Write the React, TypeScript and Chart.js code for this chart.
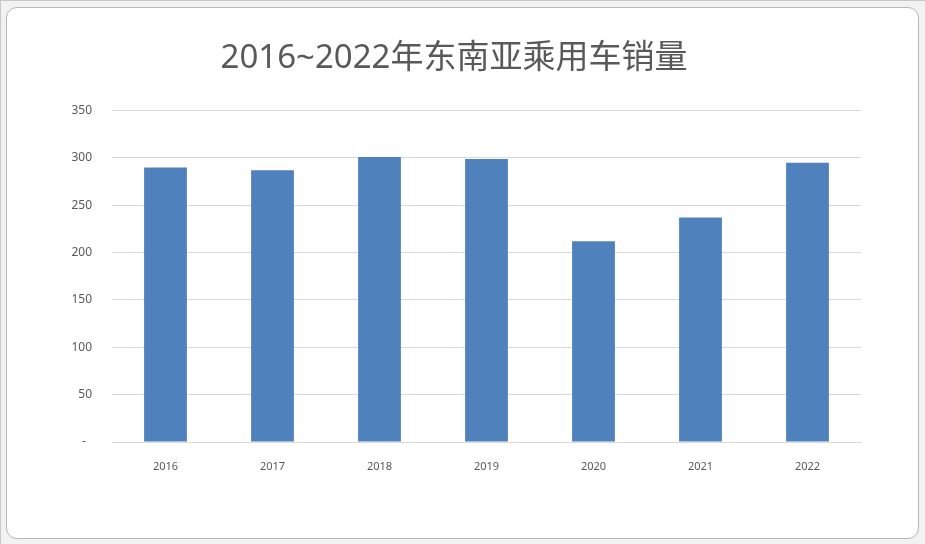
import React, { useEffect, useRef } from 'react';
import Chart from 'chart.js/auto';

const years: string[] = ['2016', '2017', '2018', '2019', '2020', '2021', '2022'];
const sales: number[] = [290, 287, 301, 299, 212, 237, 295];
const titleText = '2016~2022年东南亚乘用车销量';

const App: React.FC = () => {
  const canvasRef = useRef<HTMLCanvasElement>(null);
  const chartRef = useRef<Chart | null>(null);

  useEffect(() => {
    if (!canvasRef.current) return;
    const ctx = canvasRef.current.getContext('2d');
    if (!ctx) return;
    if (chartRef.current) chartRef.current.destroy();

    chartRef.current = new Chart(ctx, {
      type: 'bar',
      data: {
        labels: years,
        datasets: [{
          data: sales,
          backgroundColor: '#4f81bd',
          borderWidth: 0,
          barPercentage: 0.4,
          categoryPercentage: 1
        }]
      },
      options: {
        animation: false,
        responsive: false,
        maintainAspectRatio: false,
        // left padding shifts the title centre over to match the picture
        layout: { padding: { top: 0, left: 47, right: 64, bottom: 62 } },
        plugins: {
          legend: { display: false },
          tooltip: { enabled: false },
          title: {
            display: true,
            text: titleText,
            color: '#595959',
            font: { family: '"Noto Sans", "Noto Sans CJK SC", sans-serif', size: 33, weight: 'normal' },
            padding: { top: 39, bottom: 32 }
          }
        },
        scales: {
          x: {
            grid: { display: false },
            border: { display: true, color: '#d9d9d9' },
            ticks: {
              color: '#595959',
              font: { family: '"Noto Sans", sans-serif', size: 11 },
              padding: 10,
              maxRotation: 0
            },
            afterFit: (scale: any) => { scale.height = 40; }
          },
          y: {
            min: 0,
            max: 350,
            grid: { color: '#d9d9d9', drawTicks: false },
            border: { display: false },
            ticks: {
              stepSize: 50,
              color: '#595959',
              font: { family: '"Noto Sans", sans-serif', size: 12 },
              padding: 20,
              callback: (v: any) => (v === 0 ? '-  ' : String(v))
            },
            afterFit: (scale: any) => { scale.width = 65; }
          }
        }
      }
    });

    return () => {
      if (chartRef.current) {
        chartRef.current.destroy();
        chartRef.current = null;
      }
    };
  }, []);

  return (
    <div style={{ position: 'absolute', left: 0, top: 0, width: 925, height: 544, background: '#f2f2f2', borderTop: '1px solid #c8c8c8', borderLeft: '1px solid #c8c8c8', boxSizing: 'border-box' }}>
      <div style={{ position: 'absolute', left: 5, top: 6, width: 913, height: 532, background: '#ffffff', border: '1px solid #b8b8b8', borderRadius: 11, boxSizing: 'border-box' }} />
      <canvas ref={canvasRef} width={925} height={544} style={{ position: 'absolute', left: -1, top: -1, width: 925, height: 544 }} />
    </div>
  );
};

export default App;
